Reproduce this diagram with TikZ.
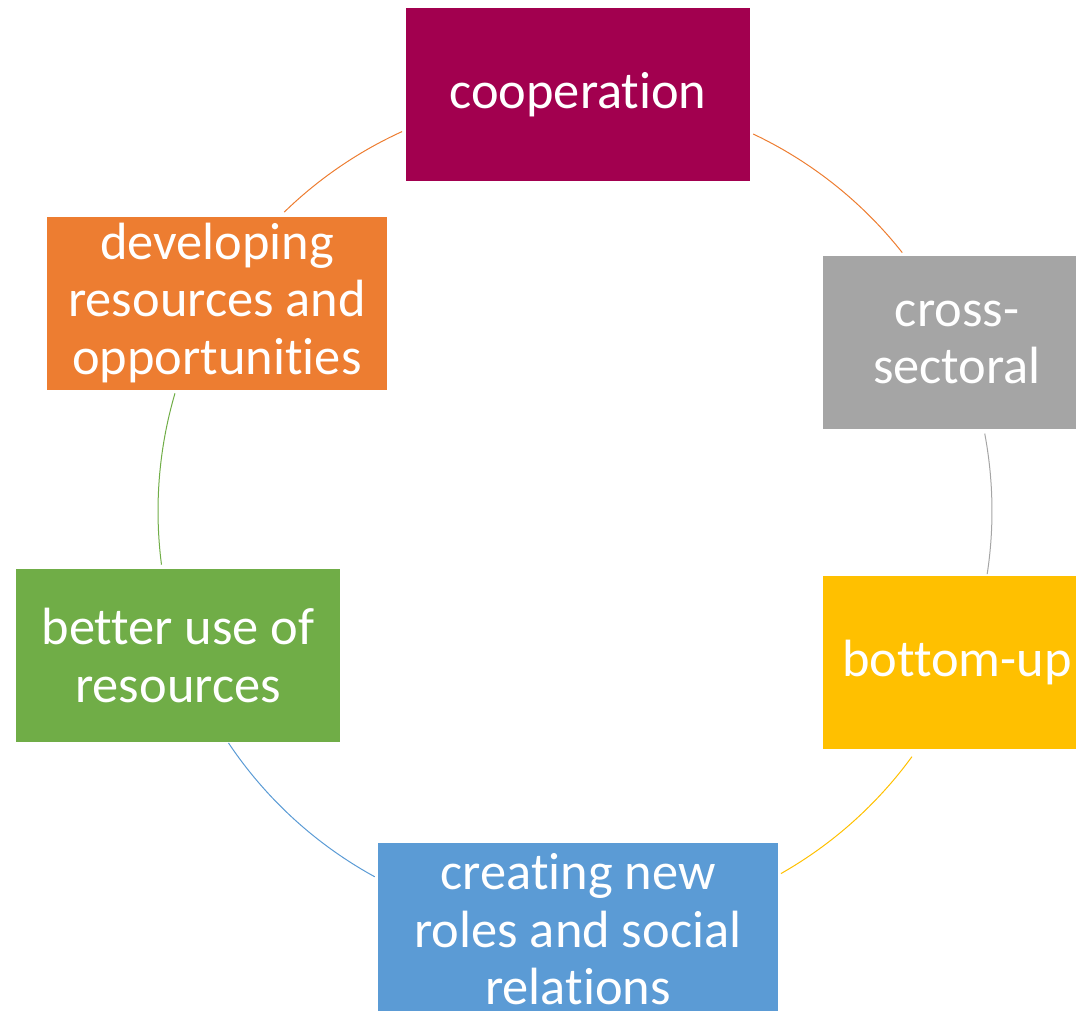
\documentclass[tikz,border=0pt]{standalone}
\usepackage{fontspec}
\setmainfont{Carlito}[Ligatures=NoCommon, RawFeature={-liga;-clig}]
\usepackage{xcolor}
\usetikzlibrary{calc}

\definecolor{coopred}{HTML}{A2004F}
\definecolor{devorange}{HTML}{ED7D31}
\definecolor{crossgrey}{HTML}{A5A5A5}
\definecolor{bottomyellow}{HTML}{FFC000}
\definecolor{roleblue}{HTML}{5B9BD5}
\definecolor{usegreen}{HTML}{70AD47}

\begin{document}
\begin{tikzpicture}[x=0.75pt, y=-0.75pt]
    \tikzstyle{stage} = [rectangle, inner sep=0pt, minimum height=129.75pt, text=white, align=center, font=\fontsize{39.3}{43.1}\selectfont]
    \tikzstyle{link} = [line width=0.75pt]

    \useasboundingbox (0,0) rectangle (1076,1011);
    \clip (0,0) rectangle (1076,1011);

    % Stages
    \node [stage, fill=coopred, minimum width=258pt] (coop) at (578,94.5) {cooperation};
    \node [stage, fill=crossgrey, minimum width=201pt] (cross) at (957,342.5) {cross-\\sectoral};
    \node [stage, fill=bottomyellow, minimum width=201pt] (bottom) at (957,662.5) {bottom-up};
    \node [stage, fill=roleblue, minimum width=300pt] (roles) at (578,929.5) {creating new\\roles and social\\relations};
    \node [stage, fill=usegreen, minimum width=243pt] (use) at (178,655.5) {better use of\\resources};
    \node [stage, fill=devorange, minimum width=255pt] (dev) at (217,303) {developing\\resources and\\opportunities};

    % Cycle
    \coordinate (c) at (575,511);
    \coordinate (a1) at ($(c)+(-134.2:417)$);
    \coordinate (a2) at ($(c)+(-64.7:417)$);
    \coordinate (a3) at ($(c)+(-10.7:417)$);
    \coordinate (a4) at ($(c)+(36.1:417)$);
    \coordinate (a5) at ($(c)+(118.7:417)$);
    \coordinate (a6) at ($(c)+(172.6:417)$);

    \draw [link, devorange] (a1) arc[start angle=-134.2, end angle=-114.5, radius=417];
    \draw [link, devorange] (a2) arc[start angle=-64.7, end angle=-38.3, radius=417];
    \draw [link, crossgrey] (a3) arc[start angle=-10.7, end angle=8.7, radius=417];
    \draw [link, bottomyellow] (a4) arc[start angle=36.1, end angle=60.4, radius=417];
    \draw [link, roleblue] (a5) arc[start angle=118.7, end angle=146.2, radius=417];
    \draw [link, usegreen] (a6) arc[start angle=172.6, end angle=196.4, radius=417];
\end{tikzpicture}
\end{document}
